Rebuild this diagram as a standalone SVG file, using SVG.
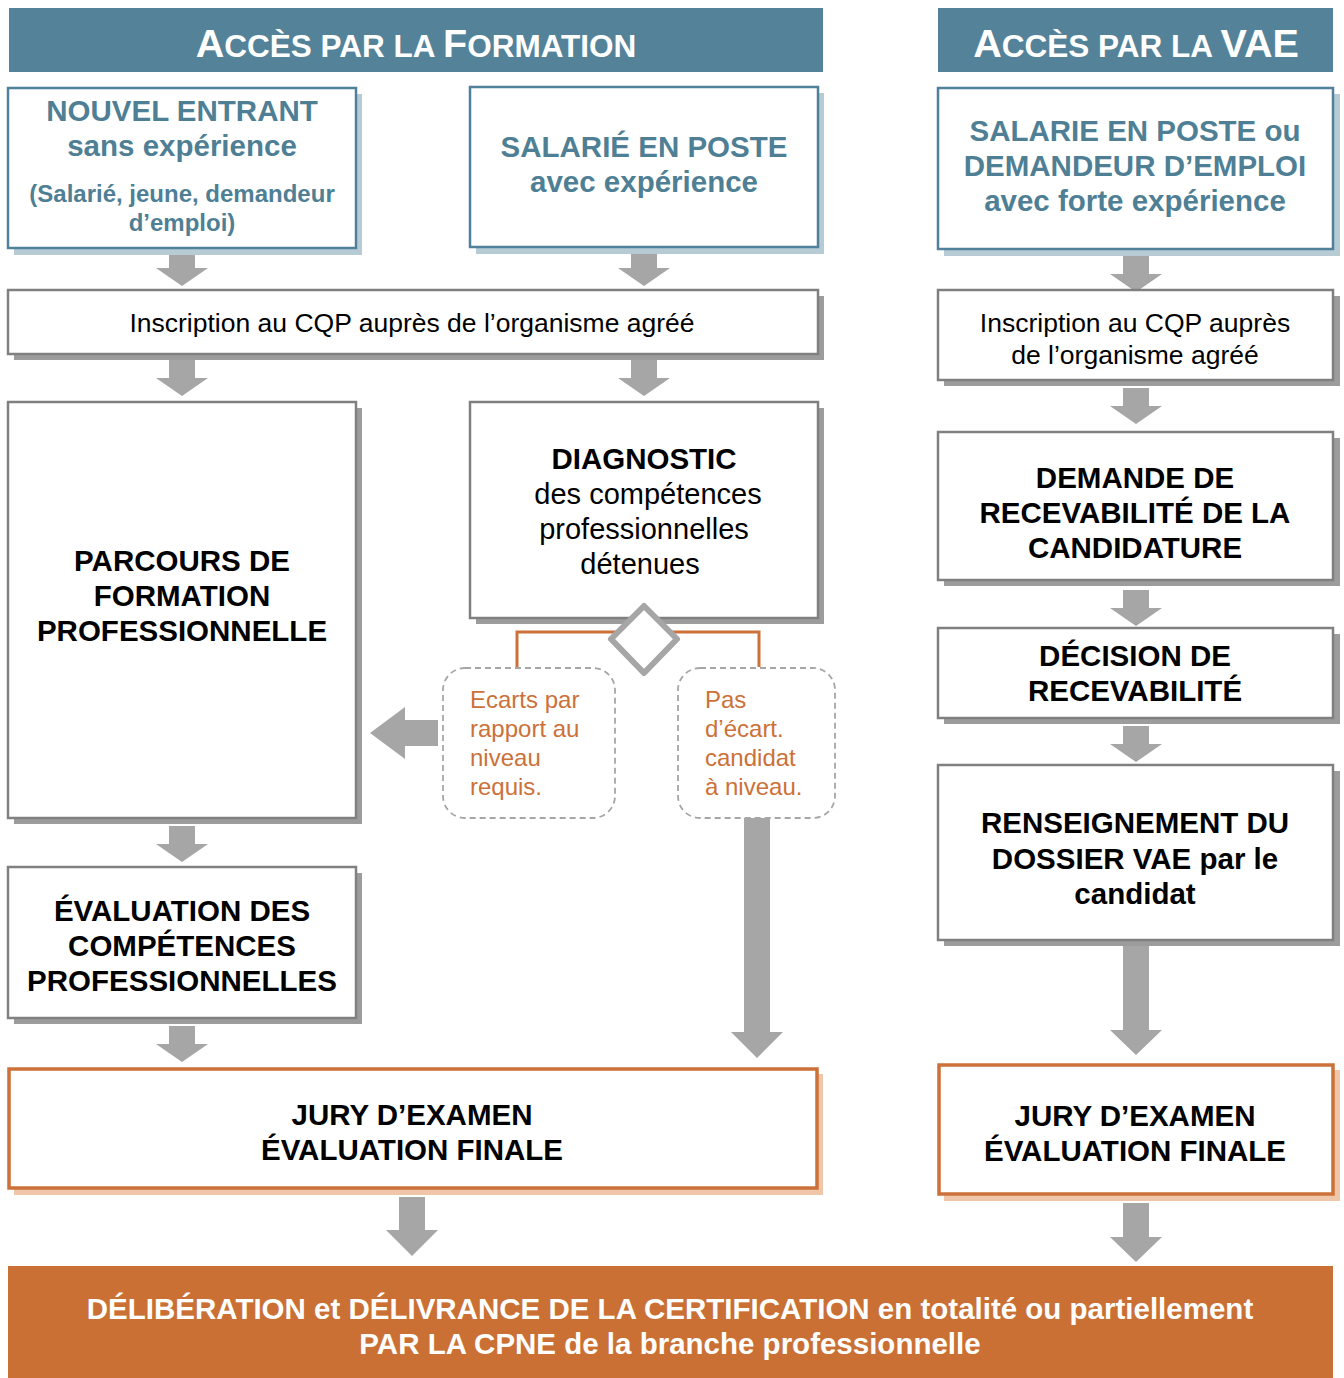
<svg xmlns="http://www.w3.org/2000/svg" width="1344" height="1378" viewBox="0 0 1344 1378">
<style>
text{font-family:"Liberation Sans",Arial,sans-serif;text-anchor:middle}
.hdr{fill:#548399}
.ht{fill:#fff;font-weight:bold;font-size:39.5px}
.ht .sc{font-size:31.5px}
.bb{fill:#fff;stroke:#51819a;stroke-width:2.5}
.bbs{fill:#b7cbd5}
.gb{fill:#fff;stroke:#808080;stroke-width:2.5}
.gbs{fill:#9c9c9c}
.ob{fill:#fff;stroke:#cb7139;stroke-width:3.5}
.obs{fill:#efc6aa}
.bt{fill:#4f7f94;font-weight:bold;font-size:29.5px}
.bts{fill:#4f7f94;font-weight:bold;font-size:24px}
.k{fill:#000;font-weight:bold;font-size:29.5px}
.r{fill:#000;font-size:26.5px}
.r26{fill:#000;font-size:29px}
.o{fill:#cb7139;font-size:24px;text-anchor:start}
.arr{fill:#a6a6a6}
.dash{fill:#fff;stroke:#a6a6a6;stroke-width:1.8;stroke-dasharray:6 4}
.w{fill:#fff;font-weight:bold;font-size:29.5px}
</style>
<defs>
<path id="ad" fill="#a6a6a6" d="M-13,0 H13 V18 H26 L0,36 L-26,18 H-13 Z"/>
</defs>

<g id="header-formation">
<rect class="hdr" x="9" y="8" width="814" height="64"/>
<text class="ht" x="416" y="57">A<tspan class="sc">CCÈS PAR LA </tspan>F<tspan class="sc">ORMATION</tspan></text>
</g>
<g id="header-vae">
<rect class="hdr" x="938" y="8" width="395" height="64"/>
<text class="ht" x="1136" y="57">A<tspan class="sc">CCÈS PAR LA </tspan>VAE</text>
</g>

<g id="connectors">
<use href="#ad" x="182" y="250"/>
<use href="#ad" x="644" y="250"/>
<use href="#ad" x="1136" y="256"/>
<use href="#ad" x="182" y="360"/>
<use href="#ad" x="644" y="360"/>
<use href="#ad" x="1136" y="388"/>
<use href="#ad" x="1136" y="590"/>
<use href="#ad" x="1136" y="726"/>
<use href="#ad" x="182" y="826"/>
<use href="#ad" x="182" y="1026"/>
<path class="arr" d="M1123,944 H1149 V1030 H1162 L1136,1055 L1110,1030 H1123 Z"/>
<path class="arr" d="M744,818 H770 V1032 H783 L757,1058 L731,1032 H744 Z"/>
<path class="arr" d="M438,720 V746 H405 V759 L370,733 L405,707 V720 Z"/>
<path class="arr" d="M399,1197 H425 V1230 H438 L412,1256 L386,1230 H399 Z"/>
<path class="arr" d="M1123,1203 H1149 V1237 H1162 L1136,1262 L1110,1237 H1123 Z"/>
<path d="M517,667 V632 H759 V667" fill="none" stroke="#cb7139" stroke-width="3"/>
</g>

<g id="nouvel-entrant">
<rect class="bbs" x="14" y="94" width="348" height="161"/>
<rect class="bb" x="8" y="88" width="348" height="160"/>
<text class="bt" x="182" y="121">NOUVEL ENTRANT</text>
<text class="bt" x="182" y="156">sans expérience</text>
<text class="bts" x="182" y="202">(Salarié, jeune, demandeur</text>
<text class="bts" x="182" y="231">d’emploi)</text>
</g>

<g id="salarie-poste">
<rect class="bbs" x="476" y="93" width="348" height="161"/>
<rect class="bb" x="470" y="87" width="348" height="160"/>
<text class="bt" x="644" y="157">SALARIÉ EN POSTE</text>
<text class="bt" x="644" y="192">avec expérience</text>
</g>

<g id="salarie-vae">
<rect class="bbs" x="944" y="94" width="396" height="162"/>
<rect class="bb" x="938" y="88" width="395" height="161"/>
<text class="bt" x="1135" y="141">SALARIE EN POSTE ou</text>
<text class="bt" x="1135" y="176">DEMANDEUR D’EMPLOI</text>
<text class="bt" x="1135" y="211">avec forte expérience</text>
</g>

<g id="inscription-formation">
<rect class="gbs" x="14" y="296" width="810" height="64"/>
<rect class="gb" x="8" y="290" width="810" height="64"/>
<text class="r" x="412" y="332">Inscription au CQP auprès de l’organisme agréé</text>
</g>

<g id="inscription-vae">
<rect class="gbs" x="944" y="296" width="396" height="90"/>
<rect class="gb" x="938" y="290" width="395" height="90"/>
<text class="r" x="1135" y="332">Inscription au CQP auprès</text>
<text class="r" x="1135" y="364">de l’organisme agréé</text>
</g>

<g id="parcours">
<rect class="gbs" x="14" y="408" width="348" height="416"/>
<rect class="gb" x="8" y="402" width="348" height="416"/>
<text class="k" x="182" y="571">PARCOURS DE</text>
<text class="k" x="182" y="606">FORMATION</text>
<text class="k" x="182" y="641">PROFESSIONNELLE</text>
</g>

<g id="diagnostic">
<rect class="gbs" x="476" y="408" width="348" height="216"/>
<rect class="gb" x="470" y="402" width="348" height="216"/>
<text class="k" x="644" y="469">DIAGNOSTIC</text>
<text class="r26" x="648" y="504">des compétences</text>
<text class="r26" x="644" y="539">professionnelles</text>
<text class="r26" x="640" y="574">détenues</text>
</g>

<g id="decision-diamond">
<path d="M644,606 L677,639 L644,673 L611,639 Z" fill="#fff" stroke="#a6a6a6" stroke-width="6" stroke-linejoin="round"/>
</g>

<g id="ecarts">
<rect class="dash" x="443" y="668" width="172" height="150" rx="22"/>
<text class="o" x="470" y="708">Ecarts par</text>
<text class="o" x="470" y="737">rapport au</text>
<text class="o" x="470" y="766">niveau</text>
<text class="o" x="470" y="795">requis.</text>
</g>

<g id="pas-ecart">
<rect class="dash" x="678" y="668" width="157" height="150" rx="22"/>
<text class="o" x="705" y="708">Pas</text>
<text class="o" x="705" y="737">d’écart.</text>
<text class="o" x="705" y="766">candidat</text>
<text class="o" x="705" y="795">à niveau.</text>
</g>

<g id="evaluation">
<rect class="gbs" x="14" y="873" width="348" height="151"/>
<rect class="gb" x="8" y="867" width="348" height="151"/>
<text class="k" x="182" y="921">ÉVALUATION DES</text>
<text class="k" x="182" y="956">COMPÉTENCES</text>
<text class="k" x="182" y="991">PROFESSIONNELLES</text>
</g>

<g id="demande">
<rect class="gbs" x="944" y="438" width="396" height="148"/>
<rect class="gb" x="938" y="432" width="395" height="148"/>
<text class="k" x="1135" y="488">DEMANDE DE</text>
<text class="k" x="1135" y="523">RECEVABILITÉ DE LA</text>
<text class="k" x="1135" y="558">CANDIDATURE</text>
</g>

<g id="decision">
<rect class="gbs" x="944" y="634" width="396" height="90"/>
<rect class="gb" x="938" y="628" width="395" height="90"/>
<text class="k" x="1135" y="666">DÉCISION DE</text>
<text class="k" x="1135" y="701">RECEVABILITÉ</text>
</g>

<g id="renseignement">
<rect class="gbs" x="944" y="771" width="396" height="175"/>
<rect class="gb" x="938" y="765" width="395" height="175"/>
<text class="k" x="1135" y="833">RENSEIGNEMENT DU</text>
<text class="k" x="1135" y="869">DOSSIER VAE par le</text>
<text class="k" x="1135" y="904">candidat</text>
</g>

<g id="jury-formation">
<rect class="obs" x="14" y="1074" width="809" height="121"/>
<rect class="ob" x="9" y="1069" width="808" height="119"/>
<text class="k" x="412" y="1125">JURY D’EXAMEN</text>
<text class="k" x="412" y="1160">ÉVALUATION FINALE</text>
</g>

<g id="jury-vae">
<rect class="obs" x="944" y="1070" width="396" height="131"/>
<rect class="ob" x="939" y="1065" width="394" height="129"/>
<text class="k" x="1135" y="1126">JURY D’EXAMEN</text>
<text class="k" x="1135" y="1161">ÉVALUATION FINALE</text>
</g>

<g id="deliberation">
<rect x="8" y="1266" width="1325" height="112" fill="#ca7035"/>
<text class="w" x="670" y="1319">DÉLIBÉRATION et DÉLIVRANCE DE LA CERTIFICATION en totalité ou partiellement</text>
<text class="w" x="670" y="1354">PAR LA CPNE de la branche professionnelle</text>
</g>
</svg>
